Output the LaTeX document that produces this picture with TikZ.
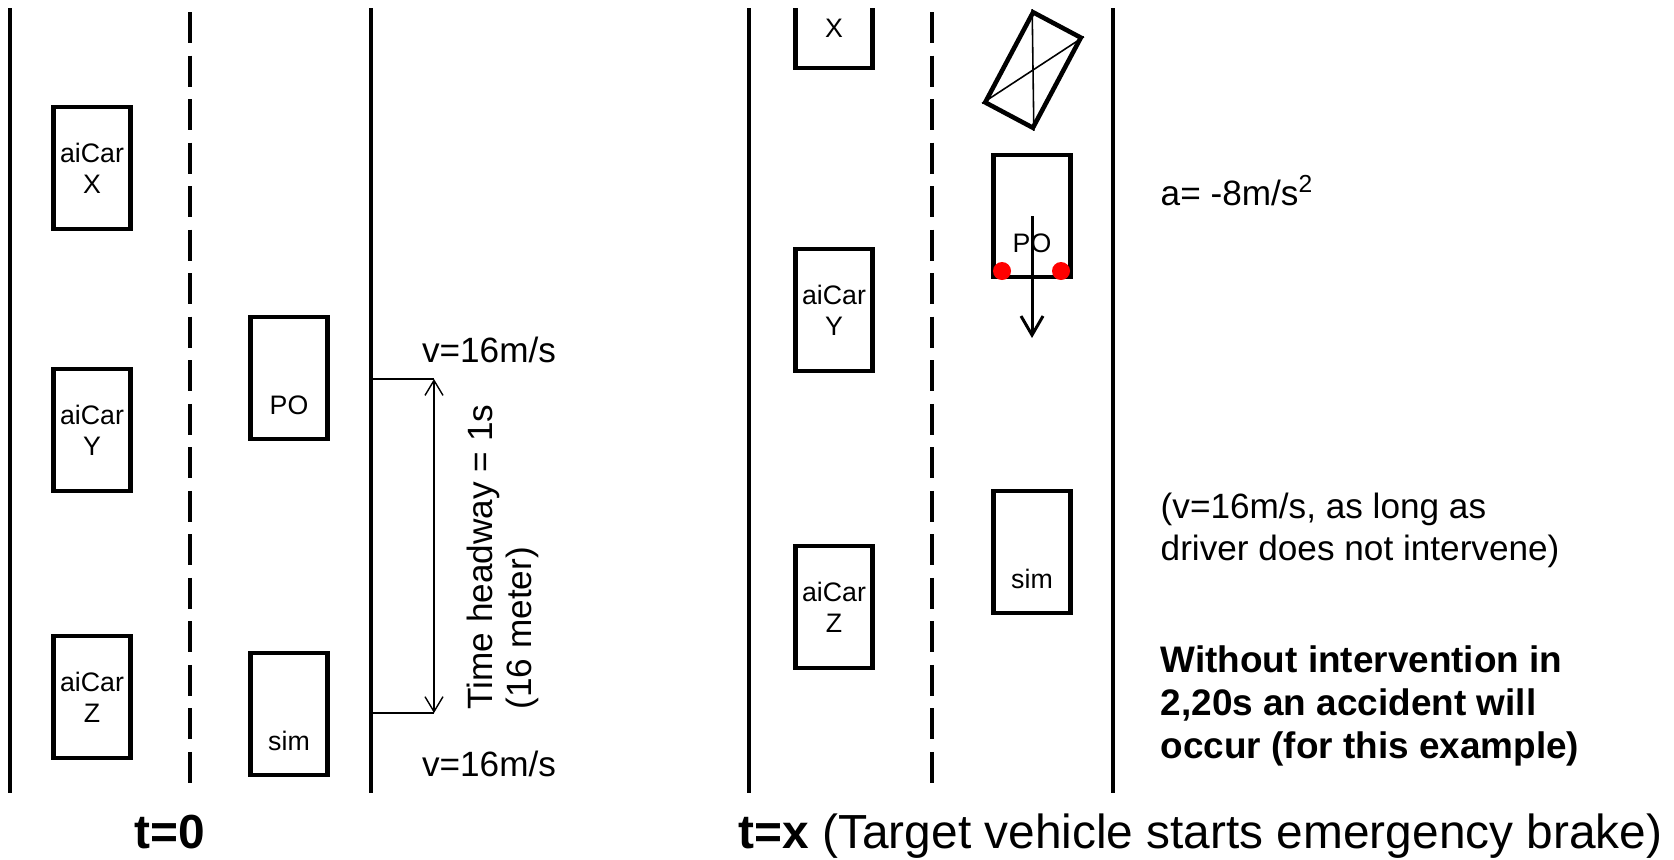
\documentclass[tikz,border=0pt]{standalone}
\usepackage{fontspec}
\setmainfont{Liberation Sans}
\usetikzlibrary{arrows.meta}

\tikzset{
    road/.style={line width=1.1pt},
    lane/.style={line width=1.1pt, dash pattern=on 0.31cm off 0.125cm},
    carbox/.style={draw, line width=1.2pt, minimum width=0.77cm, minimum height=1.22cm,
        inner sep=0pt, align=center, font=\fontsize{7.6}{8.8}\selectfont},
    lowtext/.style={text height=0.97cm, text depth=0.25cm},
    txt/.style={inner sep=0pt, font=\fontsize{10}{12}\selectfont},
    headway/.style={line width=0.4pt, >={Straight Barb[length=1.5mm, width=1.8mm]}, <->},
    brake/.style={line width=0.85pt, -{Straight Barb[length=1.9mm, width=2.2mm]}},
    brakelight/.style={circle, fill=red, inner sep=0pt, minimum size=0.18cm}
}

\begin{document}
\begin{tikzpicture}[x=0.01cm, y=-0.01cm]
        \useasboundingbox (0, 0) rectangle (1674, 859);

        % t=0
        \draw [road] (10, 8) -- (10, 793); % left edge
        \draw [lane] (190, 12) -- (190, 790); % lane divider
        \draw [road] (371, 8) -- (371, 793); % right edge

        \node [carbox] (carX) at (92, 168) {aiCar\\X};
        \node [carbox] (carY) at (92, 430) {aiCar\\Y};
        \node [carbox] (carZ) at (92, 697) {aiCar\\Z};
        \node [carbox, lowtext] (po) at (289, 378) {PO};
        \node [carbox, lowtext] (sim) at (289, 714) {sim};

        \coordinate (hwTopRoad) at (371, 379);
        \coordinate (hwTop) at (434, 379);
        \coordinate (hwBotRoad) at (371, 713);
        \coordinate (hwBot) at (434, 713);
        \draw [line width=0.4pt] (hwTopRoad) -- (hwTop);
        \draw [line width=0.4pt] (hwBotRoad) -- (hwBot);
        \draw [headway] (hwTop) -- (hwBot);

        \node [txt, anchor=base] (vPo) at (489, 362) {v=16m/s};
        \node [txt, anchor=base] (vSim) at (489, 776) {v=16m/s};
        \node [txt, rotate=90, anchor=west, align=left, font=\fontsize{10}{11.2}\selectfont] (hwText) at (503, 710) {Time headway = 1s\\(16 meter)};

        \node [inner sep=0pt, anchor=base, font=\fontsize{13.6}{16}\selectfont\bfseries] (tZero) at (170, 848) {t=0};

        % t=x
        \draw [road] (749, 8) -- (749, 793); % left edge
        \draw [lane] (932, 12) -- (932, 790); % lane divider
        \draw [road] (1113, 8) -- (1113, 793); % right edge

        \begin{scope}
            \clip (700, 8) rectangle (900, 200);
            \node [carbox, text height=0.91cm, text depth=0.31cm] (carXb) at (834, 7) {X};
        \end{scope}
        \node [carbox] (carYb) at (834, 310) {aiCar\\Y};
        \node [carbox] (carZb) at (834, 607) {aiCar\\Z};

        \node [carbox, line width=1.3pt, minimum width=0.54cm, minimum height=1.02cm, rotate=-28] (crash) at (1033, 70) {};
        \draw [line width=0.45pt] (crash.north west) -- (crash.south east);
        \draw [line width=0.45pt] (crash.north east) -- (crash.south west);

        \node [carbox, lowtext] (poB) at (1032, 216) {PO};
        \node [brakelight] (brakeL) at (1002, 271) {};
        \node [brakelight] (brakeR) at (1061, 271) {};
        \coordinate (brakeTo) at (1032, 338);
        \draw [brake] (poB.center) -- (brakeTo);

        \node [carbox, lowtext] (simB) at (1032, 552) {sim};

        \node [txt, anchor=base west] (decel) at (1160, 205) {a= -8m/s\textsuperscript{2}};
        \node [txt, anchor=west, align=left] (simNote) at (1160, 530) {(v=16m/s, as long as\\driver does not intervene)};
        \node [txt, anchor=west, align=left, font=\fontsize{10.5}{12.3}\selectfont\bfseries] (warn) at (1160, 706) {Without intervention in\\2,20s an accident will\\occur (for this example)};

        \node [inner sep=0pt, anchor=base west, font=\fontsize{13.6}{16}\selectfont] (tX) at (738, 848) {\textbf{t=x} (Target vehicle starts emergency brake)};
    \end{tikzpicture}
\end{document}
